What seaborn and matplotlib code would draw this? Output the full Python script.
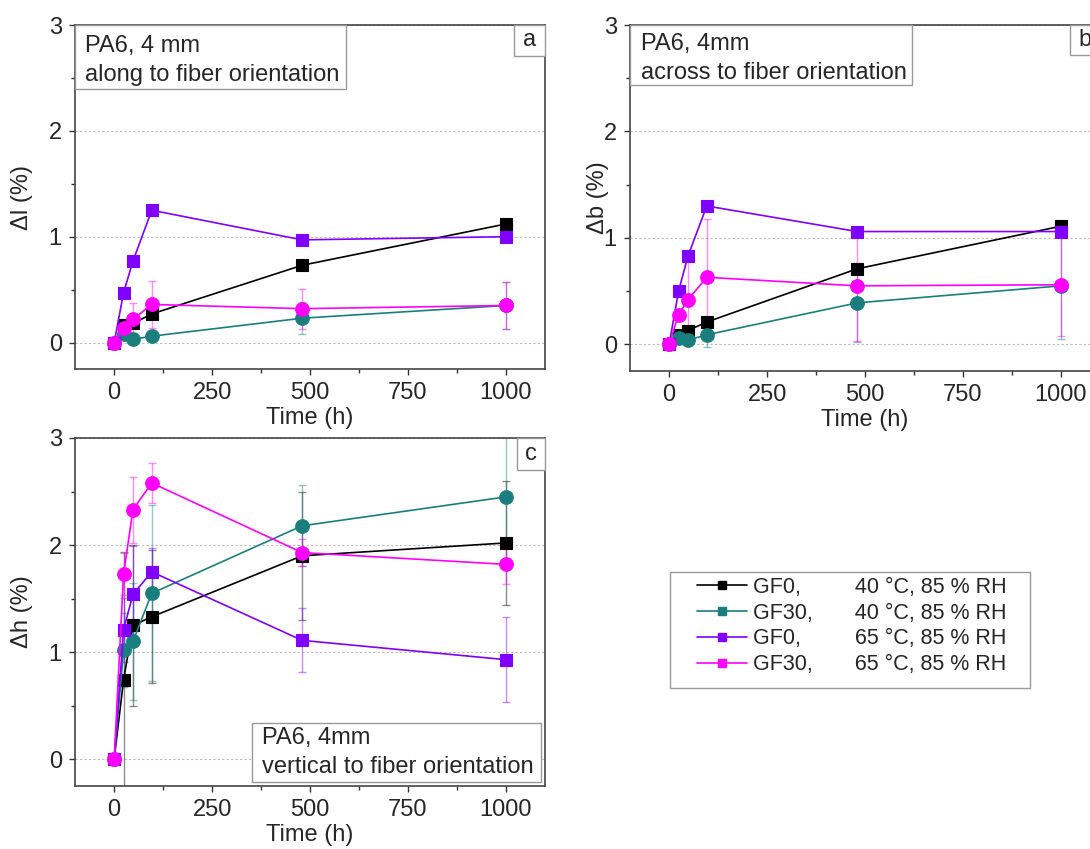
import numpy as np
import pandas as pd
import seaborn as sns
import matplotlib
matplotlib.use("Agg")
import matplotlib.pyplot as plt
from matplotlib.patches import Rectangle
from matplotlib.lines import Line2D
from matplotlib.ticker import MultipleLocator

# Storage time (h)
time_h = [0, 24, 48, 96, 480, 1000]

# Length change, along fiber orientation (%)
dl_gf0_40 = [0, 0.17, 0.18, 0.27, 0.73, 1.12]
dl_gf30_40 = [0, 0.08, 0.03, 0.06, 0.23, 0.35]
dl_gf0_65 = [0, 0.47, 0.77, 1.25, 0.97, 1.00]
dl_gf30_65 = [0, 0.14, 0.22, 0.36, 0.32, 0.35]
dl_err_gf0_40 = [0, 0.04, 0.04, 0.05, 0.03, 0.03]
dl_err_gf30_40 = [0, 0.03, 0.02, 0.03, 0.15, 0.22]
dl_err_gf0_65 = [0, 0.02, 0.02, 0.02, 0.02, 0.02]
dl_err_gf30_65 = [0, 0.05, 0.15, 0.22, 0.19, 0.22]

# Width change, across fiber orientation (%)
db_gf0_40 = [0, 0.09, 0.13, 0.21, 0.71, 1.11]
db_gf30_40 = [0, 0.06, 0.04, 0.09, 0.39, 0.55]
db_gf0_65 = [0, 0.50, 0.83, 1.30, 1.06, 1.06]
db_gf30_65 = [0, 0.28, 0.42, 0.63, 0.55, 0.56]
db_err_gf0_40 = [0, 0.03, 0.03, 0.03, 0.03, 0.03]
db_err_gf30_40 = [0, 0.03, 0.03, 0.11, 0.37, 0.50]
db_err_gf0_65 = [0, 0.03, 0.03, 0.03, 0.03, 0.03]
db_err_gf30_65 = [0, 0.05, 0.38, 0.55, 0.52, 0.48]

# Height change, vertical to fiber orientation (%)
dh_gf0_40 = [0, 0.74, 1.25, 1.33, 1.90, 2.02]
dh_gf30_40 = [0, 1.02, 1.10, 1.55, 2.18, 2.45]
dh_gf0_65 = [0, 1.21, 1.54, 1.75, 1.11, 0.93]
dh_gf30_65 = [0, 1.73, 2.33, 2.58, 1.93, 1.82]
dh_err_gf0_40 = [0, 1.20, 0.75, 0.62, 0.60, 0.58]
dh_err_gf30_40 = [0, 0.35, 0.55, 0.82, 0.38, 0.65]
dh_err_gf0_65 = [0, 0.30, 0.45, 0.22, 0.30, 0.40]
dh_err_gf30_65 = [0, 0.20, 0.31, 0.19, 0.13, 0.18]

series_names = ["GF0,         40 °C, 85 % RH",
                "GF30,       40 °C, 85 % RH",
                "GF0,         65 °C, 85 % RH",
                "GF30,       65 °C, 85 % RH"]
colors = ["#000000", "#1B7E7E", "#7F00FF", "#FF00FF"]
markers = ["s", "o", "s", "o"]

sns.set_style("ticks")
plt.rcParams["font.family"] = ["Liberation Sans", "DejaVu Sans"]

W, H = 1090, 849
FS = 17
fig = plt.figure(figsize=(W / 100, H / 100), dpi=100)


def frac_rect(left, top, right, bottom):
    return [left / W, 1 - bottom / H, (right - left) / W, (bottom - top) / H]


ax_a = fig.add_axes(frac_rect(75, 25, 545, 369))
ax_b = fig.add_axes(frac_rect(630, 25, 1100, 371))
ax_c = fig.add_axes(frac_rect(75, 438, 545, 786))

panels = [
    (ax_a, [dl_gf0_40, dl_gf30_40, dl_gf0_65, dl_gf30_65],
     [dl_err_gf0_40, dl_err_gf30_40, dl_err_gf0_65, dl_err_gf30_65], "Δl (%)", 11),
    (ax_b, [db_gf0_40, db_gf30_40, db_gf0_65, db_gf30_65],
     [db_err_gf0_40, db_err_gf30_40, db_err_gf0_65, db_err_gf30_65], "Δb (%)", -4),
    (ax_c, [dh_gf0_40, dh_gf30_40, dh_gf0_65, dh_gf30_65],
     [dh_err_gf0_40, dh_err_gf30_40, dh_err_gf0_65, dh_err_gf30_65], "Δh (%)", 11),
]

for ax, values, errors, ylab, ypad in panels:
    for vals, errs, col, mk in zip(values, errors, colors, markers):
        ax.errorbar(time_h, vals, yerr=errs, fmt="none", ecolor=col, alpha=0.45,
                    elinewidth=1.0, capsize=3, capthick=1.0, zorder=1.5)
        sns.lineplot(x=time_h, y=vals, ax=ax, color=col, marker=mk,
                     markersize=8.2 if mk == "s" else 9.8,
                     markeredgecolor=col, markeredgewidth=0.8,
                     linewidth=1.2, legend=False, zorder=2, errorbar=None)
    ax.set_xlim(-100, 1100)
    ax.set_ylim(-0.25, 3)
    ax.xaxis.set_major_locator(MultipleLocator(250))
    ax.xaxis.set_minor_locator(MultipleLocator(125))
    ax.yaxis.set_major_locator(MultipleLocator(1))
    ax.yaxis.set_minor_locator(MultipleLocator(0.5))
    ax.grid(axis="y", which="major", color="#BBBBBB", linestyle=(0, (2, 2)),
            linewidth=0.8, zorder=0)
    ax.set_axisbelow(True)
    ax.tick_params(axis="both", which="major", direction="out", length=4.5,
                   width=1.0, labelsize=FS, color="#333333", pad=5)
    ax.tick_params(axis="both", which="minor", direction="out", length=2.8,
                   width=1.0, color="#333333")
    for sp in ax.spines.values():
        sp.set_color("#444444")
        sp.set_linewidth(1.2)
        sp.set_visible(True)
    ax.set_xlabel("Time (h)", fontsize=FS, labelpad=2)
    ax.set_ylabel(ylab, fontsize=FS, labelpad=ypad)


def boxed_text(ax, x0, y0, x1, y1, lines, text_x, line_ys, size=FS):
    ax.add_patch(Rectangle((x0, y0), x1 - x0, y1 - y0, transform=ax.transAxes,
                           facecolor="white", edgecolor="#999999", linewidth=1.0,
                           zorder=5, clip_on=False))
    for txt, ly in zip(lines, line_ys):
        ax.text(text_x, ly, txt, transform=ax.transAxes, fontsize=size,
                ha="left", va="center", zorder=6)


def letter_box(ax, x0, y0, letter):
    ax.add_patch(Rectangle((x0, y0), 1 - x0, 1 - y0, transform=ax.transAxes,
                           facecolor="white", edgecolor="#999999", linewidth=1.0,
                           zorder=5, clip_on=False))
    ax.text((x0 + 1) / 2, (y0 + 1) / 2, letter, transform=ax.transAxes,
            fontsize=FS, ha="center", va="center", zorder=6)


boxed_text(ax_a, 0, 0.814, 0.577, 1.0, ["PA6, 4 mm", "along to fiber orientation"],
           0.021, [0.939, 0.855])
letter_box(ax_a, 0.934, 0.910, "a")

boxed_text(ax_b, 0, 0.827, 0.600, 1.0, ["PA6, 4mm", "across to fiber orientation"],
           0.023, [0.945, 0.862])
letter_box(ax_b, 0.936, 0.913, "b")

boxed_text(ax_c, 0.377, 0.012, 0.991, 0.181, ["PA6, 4mm", "vertical to fiber orientation"],
           0.398, [0.138, 0.055])
letter_box(ax_c, 0.940, 0.908, "c")

# Legend frame drawn as a figure-level rectangle, entries placed inside it
fig.add_artist(Rectangle((670 / W, 1 - 688 / H), 360 / W, 116 / H,
                         transform=fig.transFigure, facecolor="white",
                         edgecolor="#999999", linewidth=1.0, zorder=4))
handles = [Line2D([], [], color=c, marker="s", markersize=6, linewidth=1.2,
                  markeredgecolor=c) for c in colors]
leg = fig.legend(handles, series_names, loc="upper left",
                 bbox_to_anchor=(697 / W, 1 - 577 / H), frameon=False,
                 fontsize=15.5, handlelength=2.3, handletextpad=0.3,
                 labelspacing=0.22, borderpad=0, borderaxespad=0)
leg.set_zorder(5)

fig.savefig("out.png", dpi=100)
